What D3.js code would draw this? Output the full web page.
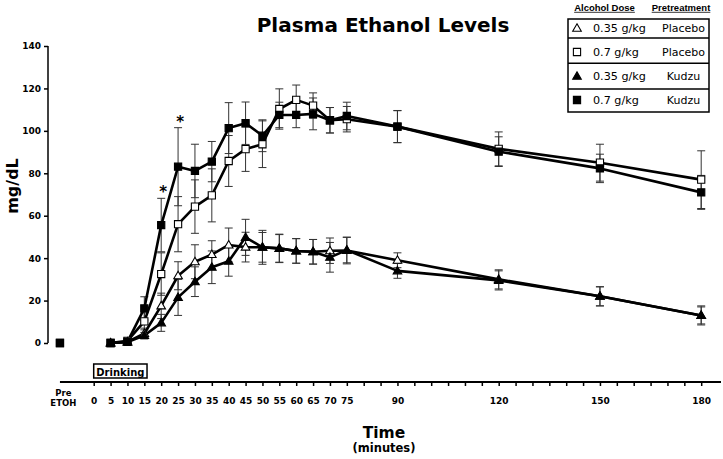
<!DOCTYPE html>
<html><head><meta charset="utf-8">
<script src="https://cdn.jsdelivr.net/npm/d3@7"></script>
<style>body{margin:0;background:#fff}svg{display:block}</style>
</head><body>
<svg id="c" width="723" height="459"></svg>
<script>
// ---- data ----
const times = ["Pre", 5, 10, 15, 20, 25, 30, 35, 40, 45, 50, 55, 60, 65, 70, 75, 90, 120, 150, 180];
const placebo035 = [0, 0, 0.5, 4.5, 17.5, 31.7, 38.3, 41.7, 46.2, 45.2, 45.1, 44.6, 43.4, 43.0, 43.5, 43.6, 39.0, 30.0, 22.0, 13.0];
const placebo035Err = [0, 0, 0.5, 2.5, 6, 6.6, 8, 6.5, 8, 7, 7, 6.5, 5.8, 5.8, 6, 6.3, 3.5, 4.5, 4.5, 4];
const kudzu035 = [0, 0, 0.5, 3.5, 9.5, 21.5, 28.9, 35.7, 38.5, 49.8, 45.1, 44.6, 43.4, 43.0, 40.4, 43.8, 34.0, 29.5, 22.0, 13.0];
const kudzu035Err = [0, 0, 0.5, 1.5, 4, 8.5, 7, 7.7, 7, 8.5, 8, 6.7, 5.8, 5.8, 7, 6, 3.5, 4.5, 4.5, 4.5];
const placebo07 = [0, 0, 1.0, 10.2, 32.5, 56.0, 64.3, 69.6, 85.8, 91.4, 93.7, 110.3, 114.6, 111.9, 105.0, 105.5, 102.0, 91.5, 85.0, 77.0];
const placebo07Err = [0, 0, 1, 4, 10, 13, 12.6, 12.5, 12, 10.5, 11, 9.5, 7, 6, 6, 6, 7.5, 8, 8.7, 13.6];
const kudzu07 = [0, 0, 0.5, 16.3, 55.6, 83.1, 81.1, 85.5, 101.3, 103.6, 97.7, 107.5, 107.5, 108.0, 105.0, 107.0, 102.0, 90.2, 82.3, 71.0];
const kudzu07Err = [0, 0, 0.5, 5.5, 12.6, 18.4, 12.6, 9.5, 12, 10, 7.5, 6, 6, 7.5, 6, 6.5, 7.6, 7, 6.7, 8];
const xTickValues = d3.range(0, 181, 5);
const xTickLabels = [0,5,10,15,20,25,30,35,40,45,50,55,60,65,70,75,90,120,150,180];
const yTicks = [0, 20, 40, 60, 80, 100, 120, 140];
const starTimes = [20, 25];
const seriesInfo = [
  {dose: "0.35 g/kg", pre: "Placebo", sym: "tri", fill: "#fff", vals: placebo035, err: placebo035Err},
  {dose: "0.7 g/kg", pre: "Placebo", sym: "sq", fill: "#fff", vals: placebo07, err: placebo07Err},
  {dose: "0.35 g/kg", pre: "Kudzu", sym: "tri", fill: "#000", vals: kudzu035, err: kudzu035Err},
  {dose: "0.7 g/kg", pre: "Kudzu", sym: "sq", fill: "#000", vals: kudzu07, err: kudzu07Err}
];

// ---- layout ----
const svg = d3.select("#c");
const FONT = "'DejaVu Sans', Verdana, sans-serif";
const x = d3.scaleLinear().domain([0, 180]).range([93.7, 701.2]);
const y = d3.scaleLinear().domain([0, 140]).range([343, 46]);
const PRE_T = -10;
const xPos = t => t === "Pre" ? x(PRE_T) : x(t);
const axisY = 382;

// title
svg.append("text").attr("x", 383).attr("y", 32).attr("text-anchor", "middle")
  .attr("font-family", FONT).attr("font-weight", "bold").attr("font-size", 20).text("Plasma Ethanol Levels");

// y axis
const yAxis = svg.append("g").attr("transform", "translate(48,0)")
  .call(d3.axisLeft(y).tickValues(yTicks).tickSize(4).tickPadding(3));
yAxis.select(".domain").attr("stroke", "#000").attr("stroke-width", 1.5).attr("d", `M0,${y(140)}V${y(0)}`);
yAxis.selectAll(".tick line").attr("stroke", "#000").attr("stroke-width", 1.5);
yAxis.selectAll(".tick text").attr("font-family", FONT).attr("font-weight", "bold").attr("font-size", 9).attr("fill", "#000");

svg.append("text").attr("transform", "translate(18,186) rotate(-90)").attr("text-anchor", "middle")
  .attr("font-family", FONT).attr("font-weight", "bold").attr("font-size", 16).text("mg/dL");

// x axis
const xAxis = svg.append("g").attr("transform", `translate(0,${axisY})`)
  .call(d3.axisBottom(x).tickValues(xTickValues).tickSize(4).tickPadding(12)
    .tickFormat(d => xTickLabels.includes(d) ? d : ""));
xAxis.select(".domain").attr("stroke", "#000").attr("stroke-width", 2).attr("d", `M${x(PRE_T)},0H721`);
xAxis.selectAll(".tick line").attr("stroke", "#000").attr("stroke-width", 1.5);
xAxis.selectAll(".tick text").attr("font-family", FONT).attr("font-weight", "bold").attr("font-size", 9).attr("fill", "#000");

svg.append("text").attr("x", x(-9)).attr("y", 396).attr("text-anchor", "middle")
  .attr("font-family", FONT).attr("font-weight", "bold").attr("font-size", 8.5).text("Pre");
svg.append("text").attr("x", x(-9)).attr("y", 406).attr("text-anchor", "middle")
  .attr("font-family", FONT).attr("font-weight", "bold").attr("font-size", 8.5).text("ETOH");

// drinking box
svg.append("rect").attr("x", x(0)).attr("y", 364).attr("width", x(15.8) - x(0)).attr("height", 14)
  .attr("fill", "#fff").attr("stroke", "#000").attr("stroke-width", 1.5);
svg.append("text").attr("x", (x(0) + x(15.8)) / 2).attr("y", 375.5).attr("text-anchor", "middle")
  .attr("font-family", FONT).attr("font-weight", "bold").attr("font-size", 10).text("Drinking");

svg.append("text").attr("x", 384).attr("y", 437.5).attr("text-anchor", "middle")
  .attr("font-family", FONT).attr("font-weight", "bold").attr("font-size", 15.5).text("Time");
svg.append("text").attr("x", 384).attr("y", 452).attr("text-anchor", "middle")
  .attr("font-family", FONT).attr("font-weight", "bold").attr("font-size", 11.5).text("(minutes)");

// symbols
const triPath = d3.symbol().type(d3.symbolTriangle).size(32)();
const sqPath = d3.symbol().type(d3.symbolSquare).size(52)();
function drawSym(g, s, cx, cy) {
  g.append("path").attr("d", s.sym === "tri" ? triPath : sqPath)
    .attr("transform", `translate(${cx},${cy + (s.sym === "tri" ? 0.5 : 0)})`)
    .attr("fill", s.fill).attr("stroke", "#000").attr("stroke-width", 1.1);
}

// error bars
const eb = svg.append("g").attr("stroke", "#333").attr("stroke-width", 1);
seriesInfo.forEach(s => {
  times.forEach((t, i) => {
    if (t === "Pre" || s.err[i] < 1) return;
    const cx = xPos(t), v = s.vals[i], e = s.err[i];
    eb.append("line").attr("x1", cx).attr("x2", cx).attr("y1", y(v + e)).attr("y2", y(v - e));
    eb.append("line").attr("x1", cx - 4).attr("x2", cx + 4).attr("y1", y(v + e)).attr("y2", y(v + e));
    eb.append("line").attr("x1", cx - 4).attr("x2", cx + 4).attr("y1", y(v - e)).attr("y2", y(v - e));
  });
});

// lines
const line = d3.line().x(d => xPos(d.t)).y(d => y(d.v));
seriesInfo.forEach(s => {
  const pts = times.map((t, i) => ({t, v: s.vals[i]})).filter(d => d.t !== "Pre");
  svg.append("path").datum(pts).attr("d", line).attr("fill", "none")
    .attr("stroke", "#000").attr("stroke-width", 2.6).attr("stroke-linejoin", "round");
});

// markers (the pre-ETOH baseline shows as one filled square on top of the others)
const mk = svg.append("g");
seriesInfo.forEach(s => {
  times.forEach((t, i) => {
    if (t === "Pre" && s.sym === "tri") return;
    drawSym(mk, s, xPos(t), y(s.vals[i]));
  });
});

// stars
starTimes.forEach(t => {
  const i = times.indexOf(t);
  const top = kudzu07[i] + kudzu07Err[i];
  svg.append("text").attr("x", x(t) + 2).attr("y", y(top) - 1).attr("text-anchor", "middle")
    .attr("font-family", FONT).attr("font-weight", "bold").attr("font-size", 15).text("*");
});

// legend
const LF = "'Liberation Sans', Arial, sans-serif";
[["Alcohol Dose", 604.5], ["Pretreatment", 681]].forEach(([txt, cx]) => {
  const tx = svg.append("text").attr("x", cx).attr("y", 10.5).attr("text-anchor", "middle")
    .attr("font-family", LF).attr("font-weight", "bold").attr("font-size", 9.5).text(txt);
  const w = tx.node().getComputedTextLength();
  svg.append("line").attr("x1", cx - w / 2).attr("x2", cx + w / 2).attr("y1", 12.3).attr("y2", 12.3)
    .attr("stroke", "#000").attr("stroke-width", 0.8);
});
const rowEdges = [19, 38, 63.3, 89, 112];
const lg = svg.append("g");
lg.append("rect").attr("x", 568).attr("y", rowEdges[0]).attr("width", 141).attr("height", rowEdges[4] - rowEdges[0])
  .attr("fill", "#fff").attr("stroke", "#000").attr("stroke-width", 1.5);
rowEdges.slice(1, 4).forEach(yy => lg.append("line").attr("x1", 568).attr("x2", 709).attr("y1", yy).attr("y2", yy)
  .attr("stroke", "#000").attr("stroke-width", 1.5));
const rowCenters = [28.3, 52, 76.3, 100];
seriesInfo.forEach((s, i) => {
  const cy = rowCenters[i];
  drawSym(lg, s, 577, cy);
  lg.append("text").attr("x", 593).attr("y", cy + 4).attr("font-family", FONT).attr("font-size", 11.2).text(s.dose);
  lg.append("text").attr("x", 683.5).attr("y", cy + 4).attr("text-anchor", "middle").attr("font-family", FONT).attr("font-size", 11).text(s.pre);
});
</script>
</body></html>
